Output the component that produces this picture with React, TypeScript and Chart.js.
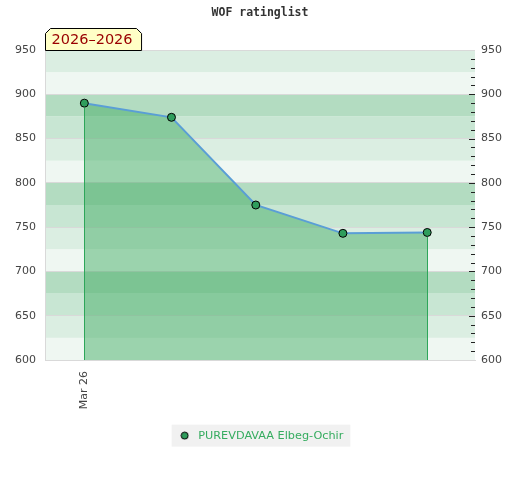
import React, { useEffect, useRef } from "react";
import { Chart, registerables } from "chart.js";

Chart.register(...registerables);

// ---- data ----
const chartTitle = "WOF ratinglist";
const periodLabel = "2026–2026";
const seriesName = "PUREVDAVAA Elbeg-Ochir";
const dates = ["2026-03-01", "2026-04-01", "2026-05-01", "2026-06-01", "2026-07-01"];
const ratings = [890, 874, 775, 743, 744];
const xTickDates = ["2026-03-01"];
const xTickLabels = ["Mar 26"];
const xRange = ["2026-02-15", "2026-07-18"];
const yMin = 600;
const yMax = 950;
const yStep = 50;
const minorStep = 10;
const bandStep = 25;

const toDay = (s: string) => Date.UTC(+s.slice(0, 4), +s.slice(5, 7) - 1, +s.slice(8, 10)) / 86400000;

const bandColors = ["#eff7f2", "#dbeee2", "#c8e6d3", "#b3dcc1"];
const lineColor = "#5a9ed6";
const fillColor = "rgba(62,171,95,0.47)";
const pointColor = "#2f9d5c";
const edgeColor = "#2ea65a";
const textGreen = "#35ac5f";
const gridColor = "#d9d9d9";
const tickColor = "#444";

const bandsPlugin = {
  id: "bands",
  beforeDraw(chart: any) {
    const { ctx, chartArea, scales } = chart;
    const y = scales.y;
    ctx.save();
    for (let v = y.min; v < y.max; v += bandStep) {
      const y1 = y.getPixelForValue(v + bandStep);
      const y2 = y.getPixelForValue(v);
      const idx = Math.round((((v % 100) + 100) % 100) / bandStep) % 4;
      ctx.fillStyle = bandColors[idx];
      ctx.fillRect(chartArea.left, y1, chartArea.right - chartArea.left, y2 - y1);
    }
    // legend background
    const lg = chart.legend;
    if (lg && lg.legendHitBoxes && lg.legendHitBoxes.length) {
      const hb = lg.legendHitBoxes[0];
      const cy = hb.top + hb.height / 2;
      ctx.fillStyle = "#f1f1f1";
      ctx.fillRect(hb.left - 5, cy - 11, hb.width + 12, 22);
    }
    ctx.restore();
  },
};

const decorPlugin = {
  id: "decor",
  afterDatasetsDraw(chart: any) {
    const { ctx, chartArea } = chart;
    const meta = chart.getDatasetMeta(0);
    const pts = meta.data;
    if (!pts.length) return;
    ctx.save();
    ctx.strokeStyle = edgeColor;
    ctx.lineWidth = 1;
    [pts[0], pts[pts.length - 1]].forEach((p: any) => {
      const x = Math.round(p.x) + 0.5;
      ctx.beginPath();
      ctx.moveTo(x, p.y + 4.5);
      ctx.lineTo(x, chartArea.bottom);
      ctx.stroke();
    });
    ctx.restore();
  },
  afterDraw(chart: any) {
    const { ctx, chartArea, scales } = chart;
    const y = scales.y;
    ctx.save();
    // minor ticks on right edge
    ctx.strokeStyle = "#222";
    ctx.lineWidth = 1;
    for (let v = y.min + minorStep; v < y.max; v += minorStep) {
      const py = Math.round(y.getPixelForValue(v)) + 0.5;
      const len = v % yStep === 0 ? 6 : 4;
      ctx.beginPath();
      ctx.moveTo(chartArea.right - len, py);
      ctx.lineTo(chartArea.right, py);
      ctx.stroke();
    }
    // period label box
    ctx.font = "14.5px 'DejaVu Sans'";
    const tw = ctx.measureText(periodLabel).width;
    const left = chartArea.left + 0.5;
    const top = chartArea.top - 21.5;
    const bottom = chartArea.top + 0.5;
    const right = left + 6 + tw + 9;
    const c = 5;
    ctx.beginPath();
    ctx.moveTo(left, bottom);
    ctx.lineTo(left, top + c);
    ctx.lineTo(left + c, top);
    ctx.lineTo(right - c, top);
    ctx.lineTo(right, top + c);
    ctx.lineTo(right, bottom);
    ctx.closePath();
    ctx.fillStyle = "#ffffc6";
    ctx.fill();
    ctx.strokeStyle = "#000";
    ctx.stroke();
    ctx.fillStyle = "#990000";
    ctx.textBaseline = "middle";
    ctx.textAlign = "left";
    ctx.fillText(periodLabel, left + 6, (top + bottom) / 2 + 1);
    ctx.restore();
  },
};

export default function App() {
  const ref = useRef<HTMLCanvasElement | null>(null);
  useEffect(() => {
    document.body.style.margin = "0";
    const mk = document.createElement("canvas");
    mk.width = 9;
    mk.height = 9;
    const mc = mk.getContext("2d")!;
    mc.beginPath();
    mc.arc(4.5, 4.5, 3.5, 0, Math.PI * 2);
    mc.fillStyle = pointColor;
    mc.fill();
    mc.lineWidth = 1;
    mc.strokeStyle = "#000";
    mc.stroke();

    const chart = new Chart(ref.current!, {
      type: "line",
      data: {
        datasets: [
          {
            label: seriesName,
            data: dates.map((d, i) => ({ x: toDay(d), y: ratings[i] })),
            borderColor: lineColor,
            borderWidth: 2,
            backgroundColor: fillColor,
            fill: "start",
            tension: 0,
            pointRadius: 4,
            pointBackgroundColor: pointColor,
            pointBorderColor: "#000",
            pointBorderWidth: 1,
          },
        ],
      },
      options: {
        animation: false,
        responsive: false,
        layout: { padding: { left: 0, right: 0, top: 0, bottom: 28.75 } },
        plugins: {
          title: {
            display: true,
            text: chartTitle,
            color: "#333",
            font: { family: "'DejaVu Sans Mono'", size: 11.5, weight: "bold" },
            padding: { top: 6, bottom: 30.2 },
          },
          legend: {
            display: true,
            position: "bottom",
            labels: {
              usePointStyle: true,
              pointStyle: mk as any,
              pointStyleWidth: 16,
              color: textGreen,
              font: { family: "'DejaVu Sans'", size: 11.25 },
              padding: 10,
            },
          },
          tooltip: { enabled: false },
        },
        scales: {
          x: {
            type: "linear",
            min: toDay(xRange[0]),
            max: toDay(xRange[1]),
            grid: { display: false, drawTicks: false },
            border: { display: true, color: gridColor },
            afterBuildTicks(scale: any) {
              scale.ticks = xTickDates.map((d) => ({ value: toDay(d) }));
            },
            afterFit(scale: any) {
              scale.height = 60;
            },
            ticks: {
              autoSkip: false,
              minRotation: 90,
              maxRotation: 90,
              padding: 11,
              color: tickColor,
              font: { family: "'DejaVu Sans'", size: 11 },
              callback(value: any) {
                const i = xTickDates.findIndex((d) => toDay(d) === value);
                return i >= 0 ? xTickLabels[i] : "";
              },
            },
          },
          y: {
            type: "linear",
            position: "left",
            min: yMin,
            max: yMax,
            grid: { color: gridColor, drawTicks: false },
            border: { display: true, color: gridColor },
            afterFit(scale: any) {
              scale.width = 45;
            },
            ticks: {
              stepSize: yStep,
              padding: 9,
              color: tickColor,
              font: { family: "'DejaVu Sans'", size: 11 },
            },
          },
          y2: {
            type: "linear",
            position: "right",
            min: yMin,
            max: yMax,
            grid: { drawOnChartArea: false, drawTicks: false },
            border: { display: false },
            afterFit(scale: any) {
              scale.width = 45;
            },
            ticks: {
              stepSize: yStep,
              padding: 6,
              color: tickColor,
              font: { family: "'DejaVu Sans'", size: 11 },
            },
          },
        },
      },
      plugins: [bandsPlugin, decorPlugin],
    } as any);
    return () => chart.destroy();
  }, []);
  return (
    <div style={{ width: 520, height: 480 }}>
      <canvas ref={ref} width={520} height={480} />
    </div>
  );
}
